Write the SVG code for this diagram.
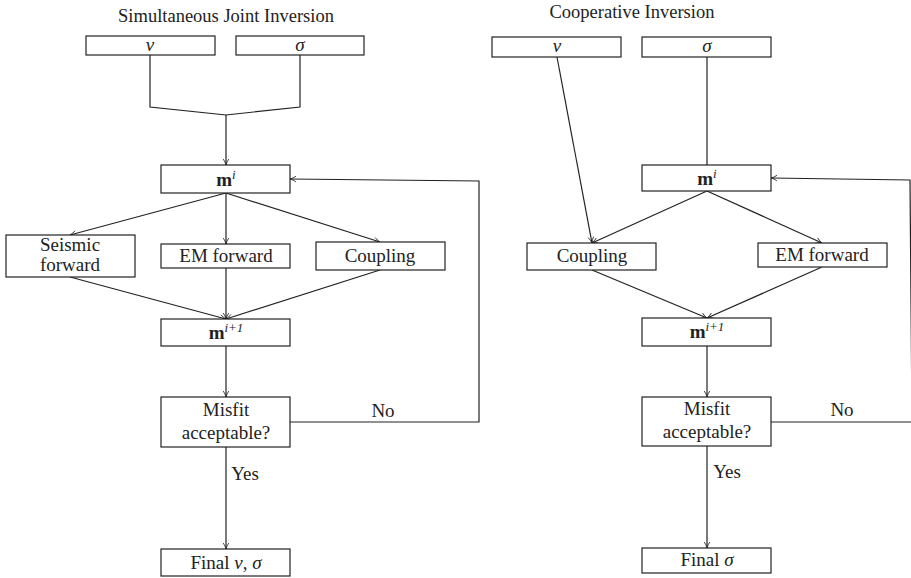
<svg xmlns="http://www.w3.org/2000/svg" width="911" height="578" viewBox="0 0 911 578">
<style>
.box{fill:#fff;stroke:#222;stroke-width:1.2}
.t{font-family:"Liberation Serif","DejaVu Serif",serif;font-size:19px;fill:#222;text-anchor:middle}
.title{font-family:"Liberation Serif","DejaVu Serif",serif;font-size:18.5px;fill:#222;text-anchor:middle}
.c{fill:none;stroke:#222;stroke-width:1.2}
.i{font-style:italic}
.b{font-weight:bold}
.sup{font-size:13px;font-style:italic}
</style>
<defs>
<marker id="ar" viewBox="0 0 10 10" refX="9.5" refY="5" markerWidth="7" markerHeight="7" markerUnits="userSpaceOnUse" orient="auto">
<path d="M1,1 Q5,4 9.5,5 Q5,6 1,9" fill="none" stroke="#222" stroke-width="1.2"/>
</marker>
</defs>
<text class="title" x="226" y="22">Simultaneous Joint Inversion</text>
<text class="title" x="632" y="18">Cooperative Inversion</text>
<g id="connectors">
<polyline class="c" points="150,55 150,107 226,115"/>
<polyline class="c" points="300,55 300,107 226,115"/>
<line class="c" x1="226" y1="115" x2="226" y2="165" marker-end="url(#ar)"/>
<line class="c" x1="226" y1="193" x2="70" y2="235" marker-end="url(#ar)"/>
<line class="c" x1="226" y1="193" x2="226" y2="244" marker-end="url(#ar)"/>
<line class="c" x1="226" y1="193" x2="380" y2="242" marker-end="url(#ar)"/>
<line class="c" x1="70" y1="277" x2="226" y2="319" marker-end="url(#ar)"/>
<line class="c" x1="226" y1="268" x2="226" y2="319" marker-end="url(#ar)"/>
<line class="c" x1="380" y1="270" x2="226" y2="319" marker-end="url(#ar)"/>
<line class="c" x1="226" y1="346" x2="226" y2="397" marker-end="url(#ar)"/>
<line class="c" x1="226" y1="447" x2="226" y2="549" marker-end="url(#ar)"/>
<polyline class="c" points="290,422 479,422 479,181 290,179" marker-end="url(#ar)"/>
<line class="c" x1="557" y1="57" x2="592" y2="243" marker-end="url(#ar)"/>
<line class="c" x1="707" y1="57" x2="707" y2="165"/>
<line class="c" x1="707" y1="191" x2="592" y2="243" marker-end="url(#ar)"/>
<line class="c" x1="707" y1="191" x2="822" y2="243" marker-end="url(#ar)"/>
<line class="c" x1="592" y1="270" x2="707" y2="318" marker-end="url(#ar)"/>
<line class="c" x1="822" y1="267" x2="707" y2="318" marker-end="url(#ar)"/>
<line class="c" x1="707" y1="346" x2="707" y2="397" marker-end="url(#ar)"/>
<line class="c" x1="707" y1="446" x2="707" y2="548" marker-end="url(#ar)"/>
<polyline class="c" points="771,422 912,422 910,180 771,178" marker-end="url(#ar)"/>
<text class="t" x="383" y="417">No</text>
<text class="t" x="245" y="480">Yes</text>
<text class="t" x="842" y="416">No</text>
<text class="t" x="727" y="478">Yes</text>
</g>
<g id="sji-v"><rect class="box" x="86" y="36" width="129" height="19"/><text class="t i" x="150" y="51">v</text></g>
<g id="sji-sigma"><rect class="box" x="236" y="36" width="128" height="19"/><text class="t i" x="300" y="51">σ</text></g>
<g id="sji-mi"><rect class="box" x="161" y="165" width="129" height="28"/><text class="t" x="226" y="186"><tspan class="b">m</tspan><tspan class="sup" dy="-7">i</tspan></text></g>
<g id="sji-seismic"><rect class="box" x="6" y="235" width="129" height="42"/><text class="t" x="70" y="251">Seismic</text><text class="t" x="70" y="271">forward</text></g>
<g id="sji-em"><rect class="box" x="161" y="244" width="129" height="24"/><text class="t" x="226" y="262">EM forward</text></g>
<g id="sji-coupling"><rect class="box" x="316" y="242" width="129" height="28"/><text class="t" x="380" y="262">Coupling</text></g>
<g id="sji-mi1"><rect class="box" x="161" y="319" width="129" height="27"/><text class="t" x="226" y="339"><tspan class="b">m</tspan><tspan class="sup" dy="-7">i+1</tspan></text></g>
<g id="sji-misfit"><rect class="box" x="161" y="397" width="129" height="50"/><text class="t" x="226" y="416">Misfit</text><text class="t" x="226" y="439">acceptable?</text></g>
<g id="sji-final"><rect class="box" x="161" y="549" width="129" height="27"/><text class="t" x="226" y="569">Final <tspan class="i">v</tspan>, <tspan class="i">σ</tspan></text></g>
<g id="ci-v"><rect class="box" x="492" y="37" width="129" height="20"/><text class="t i" x="557" y="52">v</text></g>
<g id="ci-sigma"><rect class="box" x="642" y="37" width="129" height="20"/><text class="t i" x="707" y="52">σ</text></g>
<g id="ci-mi"><rect class="box" x="642" y="165" width="129" height="26"/><text class="t" x="707" y="185"><tspan class="b">m</tspan><tspan class="sup" dy="-7">i</tspan></text></g>
<g id="ci-coupling"><rect class="box" x="527" y="243" width="129" height="27"/><text class="t" x="592" y="262">Coupling</text></g>
<g id="ci-em"><rect class="box" x="758" y="243" width="129" height="24"/><text class="t" x="822" y="261">EM forward</text></g>
<g id="ci-mi1"><rect class="box" x="642" y="318" width="129" height="28"/><text class="t" x="707" y="338"><tspan class="b">m</tspan><tspan class="sup" dy="-7">i+1</tspan></text></g>
<g id="ci-misfit"><rect class="box" x="642" y="397" width="129" height="49"/><text class="t" x="707" y="415">Misfit</text><text class="t" x="707" y="438">acceptable?</text></g>
<g id="ci-final"><rect class="box" x="642" y="548" width="129" height="25"/><text class="t" x="707" y="566">Final <tspan class="i">σ</tspan></text></g>
</svg>
